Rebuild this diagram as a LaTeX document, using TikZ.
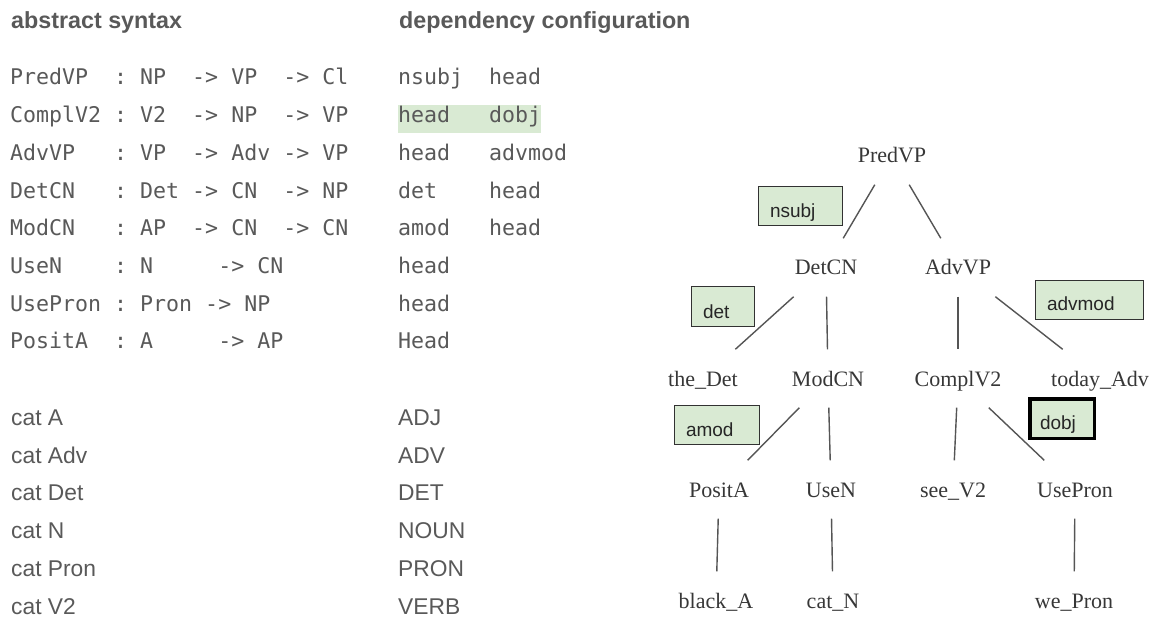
\documentclass[tikz,border=0pt]{standalone}
\usepackage{fontspec}
\setmainfont{Liberation Sans}
\newfontfamily\monof{DejaVu Sans Mono}
\newfontfamily\serf{Liberation Serif}
\definecolor{txtgray}{RGB}{89,89,89}
\definecolor{treetxt}{RGB}{55,55,55}
\definecolor{linegray}{RGB}{85,85,85}
\definecolor{boxfill}{RGB}{217,234,211}
\definecolor{boxborder}{RGB}{50,50,50}
\begin{document}
\begin{tikzpicture}[x=1pt,y=-1pt,
  hdr/.style={anchor=base west, inner sep=0pt, font=\fontsize{23.3}{27}\selectfont\bfseries, text=txtgray},
  mono/.style={anchor=base west, inner sep=0pt, font=\monof\fontsize{21.6}{26}\selectfont, text=txtgray},
  sans/.style={anchor=base west, inner sep=0pt, font=\fontsize{22.8}{27}\selectfont, text=txtgray},
  tnode/.style={font=\serf\fontsize{22}{26}\selectfont, text=treetxt, text height=15pt, text depth=0pt, minimum height=58pt, minimum width=80pt, inner sep=0pt},
  edge/.style={draw=linegray, line width=1.4pt},
  lbl/.style={draw=boxborder, fill=boxfill, line width=1pt, font=\fontsize{19}{22}\selectfont, text=black!85, align=left, inner xsep=12pt, inner ysep=0pt, text depth=8pt},
]
\useasboundingbox (0,0) rectangle (1150,617);
% highlight
\fill[boxfill] (398,105) rectangle (541,133);
% headers
\node[hdr] (h1) at (11,29) {abstract syntax};
\node[hdr] (h2) at (399,29) {dependency configuration};
% abstract syntax rows
\node[mono] (r1) at (10,85)    {PredVP~~:~NP~~->~VP~~->~Cl};
\node[mono] (r2) at (10,122.7) {ComplV2~:~V2~~->~NP~~->~VP};
\node[mono] (r3) at (10,160.4) {AdvVP~~~:~VP~~->~Adv~->~VP};
\node[mono] (r4) at (10,198.1) {DetCN~~~:~Det~->~CN~~->~NP};
\node[mono] (r5) at (10,235.8) {ModCN~~~:~AP~~->~CN~~->~CN};
\node[mono] (r6) at (10,273.5) {UseN~~~~:~N~~~~~->~CN};
\node[mono] (r7) at (10,311.2) {UsePron~:~Pron~->~NP};
\node[mono] (r8) at (10,348.9) {PositA~~:~A~~~~~->~AP};
% dependency rows
\node[mono] (d1) at (398,85)    {nsubj~~head};
\node[mono] (d2) at (398,122.7) {head~~~dobj};
\node[mono] (d3) at (398,160.4) {head~~~advmod};
\node[mono] (d4) at (398,198.1) {det~~~~head};
\node[mono] (d5) at (398,235.8) {amod~~~head};
\node[mono] (d6) at (398,273.5) {head};
\node[mono] (d7) at (398,311.2) {head};
\node[mono] (d8) at (398,348.9) {Head};
% categories
\node[sans] (c1) at (11,425) {cat A};
\node[sans] (c2) at (11,463) {cat Adv};
\node[sans] (c3) at (11,500.5) {cat Det};
\node[sans] (c4) at (11,538.5) {cat N};
\node[sans] (c5) at (11,576.5) {cat Pron};
\node[sans] (c6) at (11,614) {cat V2};
\node[sans] (u1) at (398,425) {ADJ};
\node[sans] (u2) at (398,463) {ADV};
\node[sans] (u3) at (398,500.5) {DET};
\node[sans] (u4) at (398,538.5) {NOUN};
\node[sans] (u5) at (398,576.5) {PRON};
\node[sans] (u6) at (398,614) {VERB};
% tree nodes
\node[tnode] (PredVP) at (892,155.5) {PredVP};
\node[tnode] (DetCN) at (826,267.5) {DetCN};
\node[tnode] (AdvVP) at (958,267.5) {AdvVP};
\node[tnode] (theDet) at (703,378.5) {the\_Det};
\node[tnode] (ModCN) at (828,378.5) {ModCN};
\node[tnode] (ComplV) at (958,378.5) {ComplV2};
\node[tnode] (todayAdv) at (1100,378.5) {today\_Adv};
\node[tnode] (PositA) at (719,489.5) {PositA};
\node[tnode] (UseN) at (831,489.5) {UseN};
\node[tnode] (seeV) at (953,489.5) {see\_V2};
\node[tnode] (UsePron) at (1075,489.5) {UsePron};
\node[tnode] (blackA) at (716,600.5) {black\_A};
\node[tnode] (catN) at (833,600.5) {cat\_N};
\node[tnode] (wePron) at (1074,600.5) {we\_Pron};
% edges
\draw[edge] (PredVP) -- (DetCN);
\draw[edge] (PredVP) -- (AdvVP);
\draw[edge] (DetCN) -- (theDet);
\draw[edge] (DetCN) -- (ModCN);
\draw[edge] (AdvVP) -- (ComplV);
\draw[edge] (AdvVP) -- (todayAdv);
\draw[edge] (ModCN) -- (PositA);
\draw[edge] (ModCN) -- (UseN);
\draw[edge] (ComplV) -- (seeV);
\draw[edge] (ComplV) -- (UsePron);
\draw[edge] (PositA) -- (blackA);
\draw[edge] (UseN) -- (catN);
\draw[edge] (UsePron) -- (wePron);
% labels
\node[lbl, minimum height=39pt, text width=60pt, text height=31pt] (Lnsubj) at (800,206.5) {nsubj};
\node[lbl, minimum height=39pt, text width=39pt, text height=31pt] (Ldet) at (722.5,306.5) {det};
\node[lbl, minimum height=38pt, text width=84pt, text height=30pt] (Ladvmod) at (1089,300) {advmod};
\node[lbl, minimum height=39pt, text width=61pt, text height=31pt] (Lamod) at (716.5,424.5) {amod};
\node[lbl, draw=black, line width=3.5pt, minimum height=39.5pt, text width=44pt, inner xsep=10.25pt, text height=30.25pt, text depth=9.25pt] (Ldobj) at (1062,418.5) {dobj};
\end{tikzpicture}
\end{document}
